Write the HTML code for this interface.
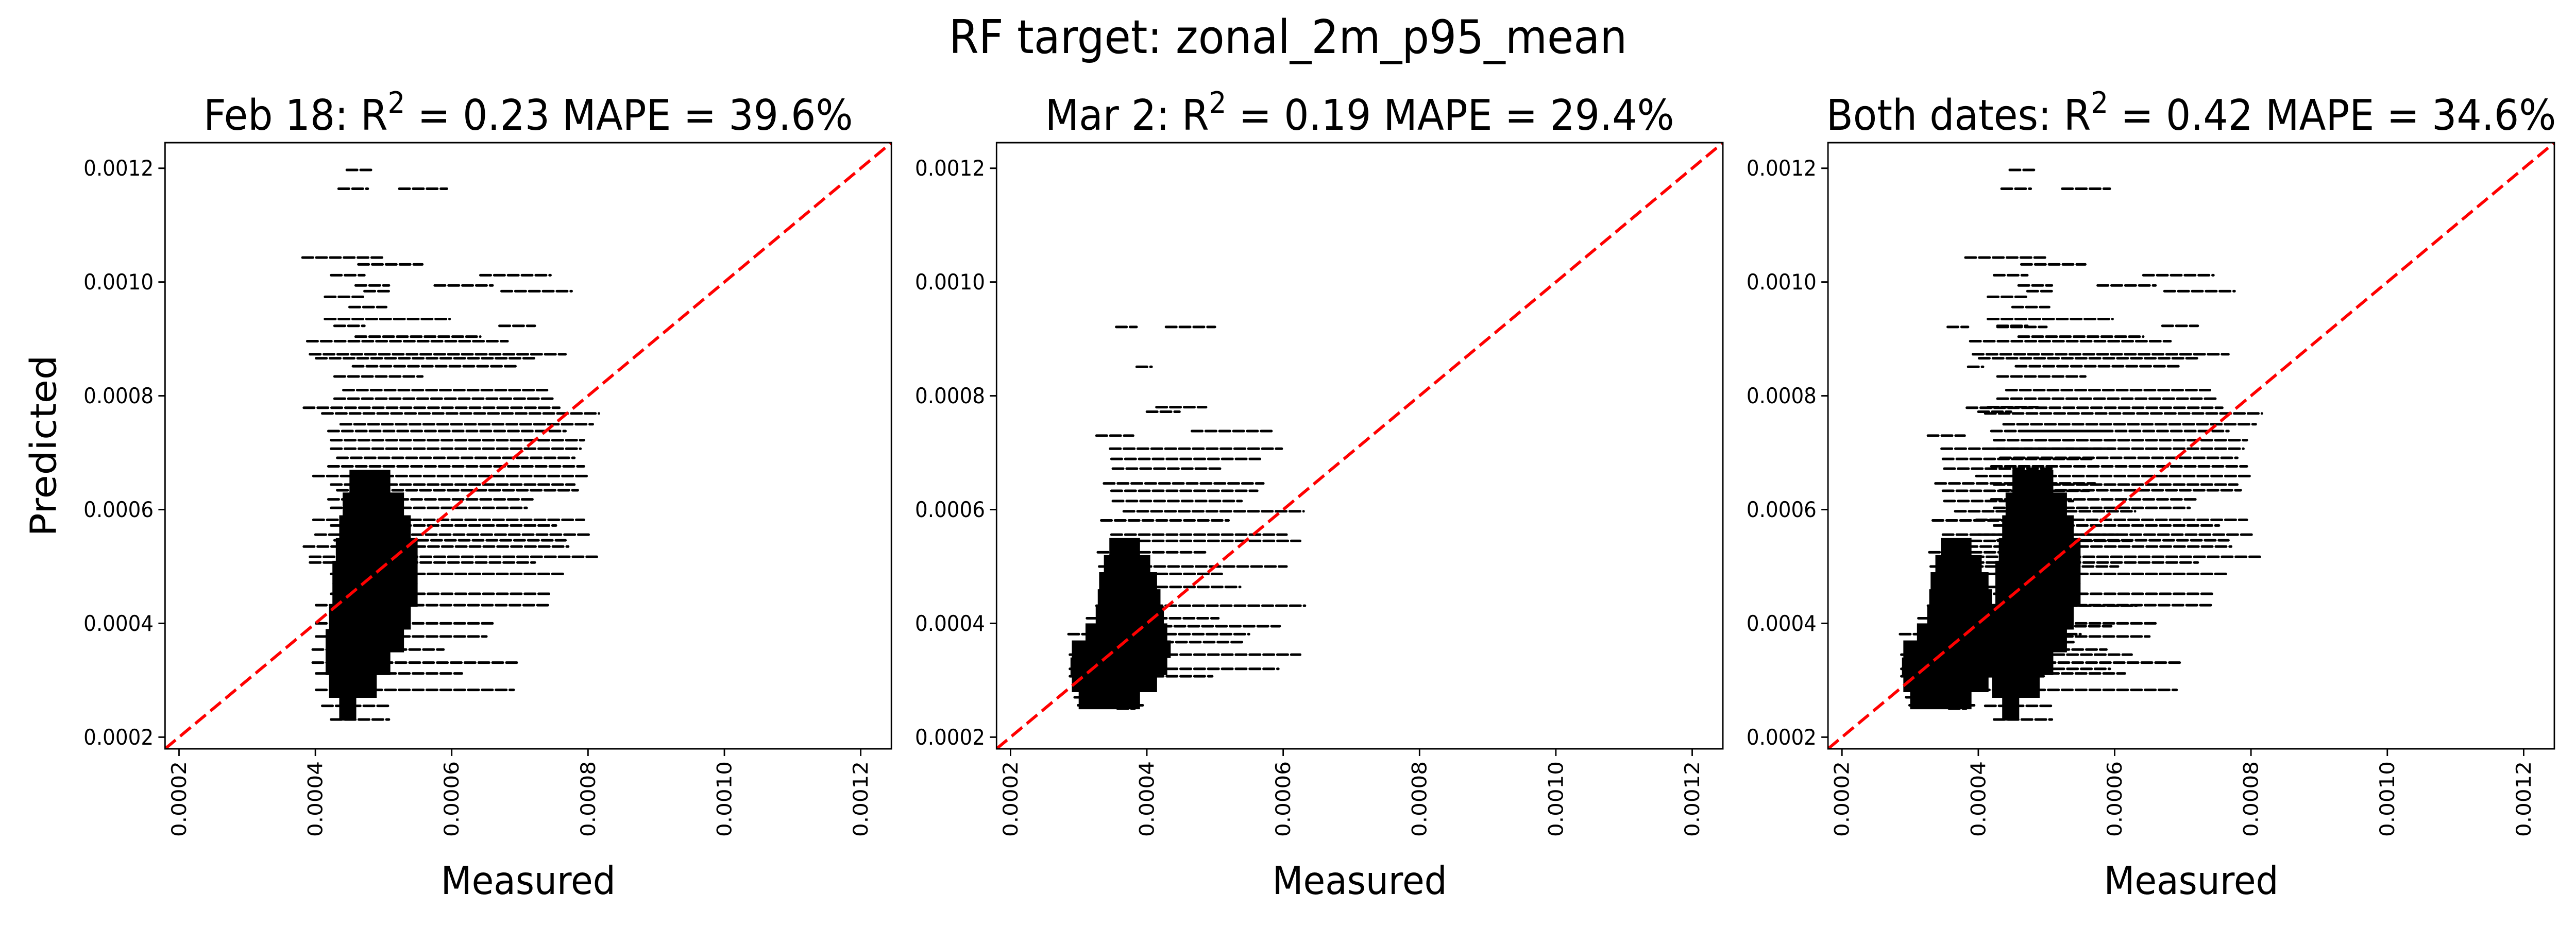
<!DOCTYPE html>
<html><head><meta charset="utf-8"><style>
html,body{margin:0;padding:0;background:#fff;overflow:hidden;width:100%;height:100%}
svg{display:block;width:100vw;height:100vh}
text{font-family:"DejaVu Sans","Liberation Sans",sans-serif;fill:#000}
</style></head><body>
<svg id="fig" viewBox="0 0 5400 1800" preserveAspectRatio="none" xmlns="http://www.w3.org/2000/svg">
<rect width="5400" height="1800" fill="#fff"/>
<text x="2700" y="103" font-size="90" text-anchor="middle">RF target: zonal_2m_p95_mean</text>
</svg>
<script>
// values in units of 1e-4
const tickValues = [2, 4, 6, 8, 10, 12];
const tickLabels = ["0.0002", "0.0004", "0.0006", "0.0008", "0.0010", "0.0012"];
const panelTitles = ["Feb 18", "Mar 2", "Both dates"];
const r2Values = ["0.23", "0.19", "0.42"];
const mapeValues = ["39.6%", "29.4%", "34.6%"];

// Feb 18 dense core rows (predicted band start, measured min, measured max)
const febCoreY = [2.3, 2.7, 3.1, 3.5, 3.9, 4.3, 4.7, 5.1, 5.5, 5.9, 6.3];
const febCoreXmin = [4.35, 4.2, 4.15, 4.15, 4.2, 4.25, 4.25, 4.3, 4.35, 4.4, 4.5];
const febCoreXmax = [4.6, 4.9, 5.1, 5.3, 5.4, 5.5, 5.5, 5.5, 5.4, 5.3, 5.1];
// Feb 18 streaks (predicted, measured start, measured end)
const febStreakY = [11.97, 11.64, 11.64, 10.43, 10.31, 10.12, 10.12, 9.94, 9.94, 9.84, 9.84, 9.74, 9.56, 9.35, 9.23, 9.23, 9.04, 8.96, 8.73, 8.66, 8.52, 8.34, 8.1, 7.95, 7.79, 7.69, 7.5, 7.38, 7.22, 7.07, 6.91, 6.76, 6.59, 6.44, 6.34, 6.18, 6.03, 5.82, 5.72, 5.56, 5.46, 5.35, 5.17, 5.07, 4.87, 4.52, 4.32, 4.0, 3.77, 3.54, 3.31, 3.12, 2.83, 2.55, 2.31];
const febStreakX0 = [4.46, 4.34, 5.23, 3.81, 4.63, 4.23, 6.42, 4.59, 5.75, 4.72, 6.73, 4.14, 4.5, 4.14, 4.28, 6.7, 4.59, 3.88, 3.92, 4.01, 4.55, 4.28, 4.41, 4.28, 3.83, 4.1, 4.37, 4.19, 4.23, 4.23, 4.32, 4.19, 3.97, 4.23, 4.32, 4.19, 4.23, 3.97, 4.23, 4.0, 4.28, 3.83, 3.92, 3.92, 4.23, 4.23, 4.01, 4.01, 4.01, 3.96, 3.96, 4.01, 4.01, 4.1, 4.23];
const febStreakX1 = [4.86, 4.77, 5.93, 4.99, 5.57, 4.72, 7.45, 5.08, 6.6, 5.12, 7.76, 4.72, 5.04, 5.97, 4.72, 7.22, 6.42, 6.82, 7.67, 7.22, 6.96, 5.57, 7.4, 7.49, 7.58, 8.16, 8.07, 7.67, 7.94, 7.89, 7.8, 7.94, 8.0, 7.8, 7.85, 7.22, 7.1, 7.94, 7.53, 8.04, 7.67, 7.71, 8.13, 7.22, 7.67, 7.44, 7.44, 6.64, 6.51, 5.88, 7.0, 6.15, 6.91, 5.08, 5.08];

// Mar 2 dense core rows
const marCoreY = [2.5, 2.8, 3.1, 3.4, 3.7, 4.0, 4.3, 4.6, 4.9, 5.2];
const marCoreXmin = [3.0, 2.9, 2.88, 2.9, 3.1, 3.25, 3.28, 3.3, 3.37, 3.45];
const marCoreXmax = [3.9, 4.15, 4.3, 4.35, 4.3, 4.25, 4.2, 4.15, 4.05, 3.9];
// Mar 2 streaks
const marStreakY = [9.21, 9.21, 8.51, 7.8, 7.72, 7.38, 7.3, 7.07, 6.89, 6.72, 6.46, 6.33, 6.15, 5.97, 5.81, 5.56, 5.45, 5.25, 5.0, 4.87, 4.64, 4.31, 4.09, 3.95, 3.81, 3.67, 3.45, 3.2, 3.07, 2.7, 2.56, 2.5];
const marStreakX0 = [3.55, 4.28, 3.85, 4.14, 4.0, 4.66, 3.26, 3.46, 3.48, 3.5, 3.37, 3.48, 3.5, 3.66, 3.33, 3.48, 3.48, 3.28, 3.3, 3.33, 3.33, 3.26, 3.12, 3.19, 2.85, 3.01, 2.87, 2.87, 2.87, 2.94, 2.99, 3.57];
const marStreakX1 = [3.85, 5.0, 4.07, 4.87, 4.48, 5.87, 3.8, 5.98, 5.66, 5.1, 5.71, 5.62, 5.39, 6.3, 5.2, 6.05, 6.25, 4.87, 6.05, 5.1, 5.37, 6.32, 5.05, 5.95, 5.5, 5.41, 6.25, 5.93, 4.96, 3.12, 3.94, 3.82];

const panelLefts = [346, 2089, 3832];
const PW = 1522.6, PT = 277, PB = 1454;
const DMIN = 1.795, DMAX = 12.45;
const NS = "http://www.w3.org/2000/svg";
const svg = document.getElementById('fig');

function mk(tag, attrs, parent) {
  const e = document.createElementNS(NS, tag);
  for (const k in attrs) e.setAttribute(k, attrs[k]);
  (parent || svg).appendChild(e);
  return e;
}

const panels = [
  {coreY: [febCoreY], coreXmin: [febCoreXmin], coreXmax: [febCoreXmax], band: [0.4],
   sY: [febStreakY], sX0: [febStreakX0], sX1: [febStreakX1]},
  {coreY: [marCoreY], coreXmin: [marCoreXmin], coreXmax: [marCoreXmax], band: [0.3],
   sY: [marStreakY], sX0: [marStreakX0], sX1: [marStreakX1]},
  {coreY: [febCoreY, marCoreY], coreXmin: [febCoreXmin, marCoreXmin], coreXmax: [febCoreXmax, marCoreXmax], band: [0.4, 0.3],
   sY: [febStreakY, marStreakY], sX0: [febStreakX0, marStreakX0], sX1: [febStreakX1, marStreakX1]}
];

panels.forEach((p, pi) => {
  const L = panelLefts[pi];
  const xs = v => L + (v - DMIN) / (DMAX - DMIN) * PW;
  const ys = v => PB - (v - DMIN) / (DMAX - DMIN) * (PB - PT);
  const g = mk('g', {});
  
  

  const cp = mk('clipPath', {id: 'clip' + pi}, g);
  mk('rect', {x: L, y: PT, width: PW, height: PB - PT}, cp);
  const plot = mk('g', {'clip-path': 'url(#clip' + pi + ')'}, g);
  
  

  p.coreY.forEach((cy, si) => {
    cy.forEach((yv, i) => {
      const r = mk('rect', {x: xs(p.coreXmin[si][i]), y: ys(yv + p.band[si]),
        width: xs(p.coreXmax[si][i]) - xs(p.coreXmin[si][i]), height: ys(yv) - ys(yv + p.band[si]) + 1, fill: '#000'}, plot);
      
      
    });
  });
  p.sY.forEach((sy, si) => {
    sy.forEach((yv, i) => {
      const l = mk('line', {x1: xs(p.sX0[si][i]), x2: xs(p.sX1[si][i]), y1: ys(yv), y2: ys(yv),
        stroke: '#000', 'stroke-width': 5, 'stroke-linecap': 'round', 'stroke-dasharray': '22 7'}, plot);
      
      
    });
  });
  const d = mk('line', {x1: xs(DMIN), y1: ys(DMIN), x2: xs(DMAX), y2: ys(DMAX), stroke: '#ff0000',
    'stroke-width': 6, 'stroke-dasharray': '28 12'}, plot);
  
  

  const f = mk('rect', {x: L, y: PT, width: PW, height: PB - PT, fill: 'none', stroke: '#000', 'stroke-width': 3}, g);
  
  

  tickValues.forEach((tv, i) => {
    const yy = ys(tv), xx = xs(tv);
    const t1 = mk('line', {x1: L - 14, x2: L, y1: yy, y2: yy, stroke: '#000', 'stroke-width': 3}, g);
    
    
    const l1 = mk('text', {x: L - 24, y: yy, 'font-size': 42, 'text-anchor': 'end', 'dominant-baseline': 'central'}, g);
    l1.textContent = tickLabels[i];
    
    
    const t2 = mk('line', {x1: xx, x2: xx, y1: PB, y2: PB + 14, stroke: '#000', 'stroke-width': 3}, g);
    
    
    const l2 = mk('text', {x: 0, y: 0, 'font-size': 42, 'text-anchor': 'end', 'dominant-baseline': 'central',
      transform: 'translate(' + xx + ',' + (PB + 24) + ') rotate(-90)'}, g);
    l2.textContent = tickLabels[i];
    
    
  });

  const tt = mk('text', {x: L + PW / 2, y: 252, 'font-size': 82, 'text-anchor': 'middle'}, g);
  
  
  tt.appendChild(document.createTextNode(panelTitles[pi] + ': R'));
  const sup = mk('tspan', {'baseline-shift': 'super', 'font-size': 57}, tt);
  sup.textContent = '2';
  const rest = mk('tspan', {}, tt);
  rest.textContent = ' = ' + r2Values[pi] + ' MAPE = ' + mapeValues[pi];

  const xl = mk('text', {x: L + PW / 2, y: 1736, 'font-size': 75, 'text-anchor': 'middle'}, g);
  xl.textContent = 'Measured';
  
  

  if (pi === 0) {
    const yl = mk('text', {x: 0, y: 0, 'font-size': 75, 'text-anchor': 'middle',
      transform: 'translate(117,' + ((PT + PB) / 2) + ') rotate(-90)'}, g);
    yl.textContent = 'Predicted';
    
    
  }
});
</script>
</body></html>
